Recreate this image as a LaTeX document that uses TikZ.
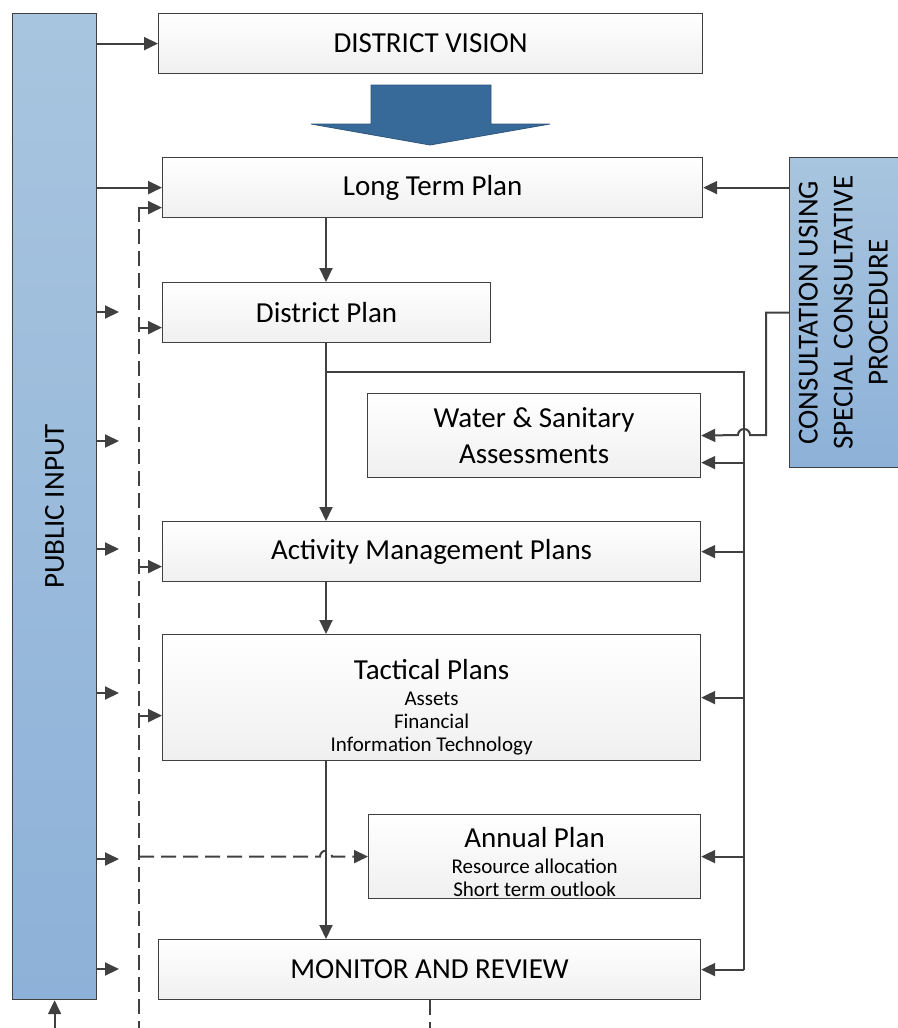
\documentclass[tikz,border=0pt]{standalone}
\usepackage{fontspec}
\usepackage{graphicx}
\setmainfont{Carlito}
\usetikzlibrary{arrows.meta,calc}
\definecolor{linegray}{HTML}{404040}
\definecolor{bluetop}{HTML}{A8C5DF}
\definecolor{bluebot}{HTML}{8DB1D8}
\definecolor{arrowblue}{HTML}{386A99}
\newcommand{\bigtxt}{\fontsize{14.5}{18}\selectfont}
\newcommand{\smalltxt}{\fontsize{10.5}{11.5}\selectfont}

\begin{document}
\begin{tikzpicture}[x=0.5pt,y=-0.5pt,
  box/.style={draw=linegray,line width=.6pt,top color=white,bottom color=gray!12,inner sep=0pt,anchor=north west,align=center,font=\bigtxt},
  bluebox/.style={box,top color=bluetop,bottom color=bluebot},
  line/.style={draw=linegray,line width=1pt},
  arr/.style={line,-{Triangle[length=7pt,width=6.5pt]}},
  dsh/.style={line,dash pattern=on 7.5pt off 3.5pt}]
\useasboundingbox (0,0) rectangle (898,1028);
\node[bluebox,minimum width=42pt,minimum height=493pt] (pubin) at (12,13) {\rotatebox{90}{PUBLIC INPUT}};
\node[box,minimum width=272pt,minimum height=30pt] (vision) at (158,13) {DISTRICT VISION};
\node[box,minimum width=270pt,minimum height=30pt] (ltp) at (162,157) {Long Term Plan};
\node[bluebox,minimum width=56pt,minimum height=155pt] (consult) at (789,157) {\rotatebox{90}{\fontsize{14.5}{17.5}\selectfont\begin{tabular}{@{}c@{}}CONSULTATION USING\\SPECIAL CONSULTATIVE\\PROCEDURE\end{tabular}}};
\node[box,minimum width=164pt,minimum height=30pt] (dplan) at (162,282) {District Plan};
\node[box,minimum width=166.5pt,minimum height=42pt] (water) at (367,393) {Water \& Sanitary\\Assessments};
\node[box,minimum width=269pt,minimum height=30pt] (amp) at (162,521) {Activity Management Plans};
\node[box,font=\smalltxt,minimum width=269pt,minimum height=63pt] (tact) at (162,634) {\rule{0pt}{20pt}\bigtxt Tactical Plans\\[1.5pt]Assets\\Financial\\Information Technology};
\node[box,font=\smalltxt,minimum width=166pt,minimum height=42pt] (annual) at (368,814) {\rule{0pt}{15pt}\bigtxt Annual Plan\\[1.5pt]Resource allocation\\Short term outlook};
\node[box,minimum width=271pt,minimum height=30pt] (monitor) at (158,939) {MONITOR AND REVIEW};

% big arrow under the vision
\filldraw[fill=arrowblue,draw=arrowblue!80!black,line width=.4pt] (371,85) -- (491,85) -- (491,124) -- (550,124) -- (430,145) -- (311,124) -- (371,124) -- cycle;

\coordinate (split) at (326,372);
\coordinate (bus) at (744,372);
\coordinate (dl) at (139,207);
\coordinate (dlend) at (139,1028);

% public input
\draw[arr] (pubin.east |- vision.west) -- (vision.west);
\draw[arr] (pubin.east |- ltp.west) -- (ltp.west);
\foreach \yy in {312,441,549,693,859,969}{
  \coordinate (p) at (119,\yy);
  \draw[arr] (pubin.east |- p) -- (p);
}
\draw[dsh,-{Triangle[length=7pt,width=6.5pt]}] (pubin.south |- dlend) -- (pubin.south);

% main flow
\draw[arr] (split |- ltp.south) -- (split |- dplan.north);
\draw[arr] (split |- dplan.south) -- (split |- amp.north);
\draw[arr] (split |- amp.south) -- (split |- tact.north);
\draw[arr] (split |- tact.south) -- (split |- monitor.north);
\draw[line] (split) -- (bus) -- (bus |- monitor.east);
\coordinate (win) at ($(water.east)+(0,27)$);
\draw[arr] (bus |- win) -- (win);
\foreach \n in {amp,tact,annual,monitor}
  \draw[arr] (bus |- \n.east) -- (\n.east);

% consultation
\draw[arr] (consult.west |- ltp.east) -- (ltp.east);
\coordinate (cbend) at (766,435);
\draw[arr] (consult.west) -| (cbend) -- ++(-16,0) arc[start angle=0,end angle=180,radius=3pt] -- (water.east);

% review loop
\draw[dsh] (dl) -- (dlend);
\foreach \n/\dy in {ltp/20,dplan/15,amp/15,tact/18}{
  \coordinate (in) at ($(\n.west)+(0,\dy)$);
  \draw[arr] (dl |- in) -- (in);
}
\coordinate (hop) at (split |- annual.west);
\draw[dsh,-{Triangle[length=7pt,width=6.5pt]}] (dl |- annual.west) -- ($(hop)+(-6,0)$) arc[start angle=180,end angle=0,radius=3pt] -- (annual.west);
\draw[dsh] (monitor.south) -- (monitor.south |- dlend);
\end{tikzpicture}
\end{document}
